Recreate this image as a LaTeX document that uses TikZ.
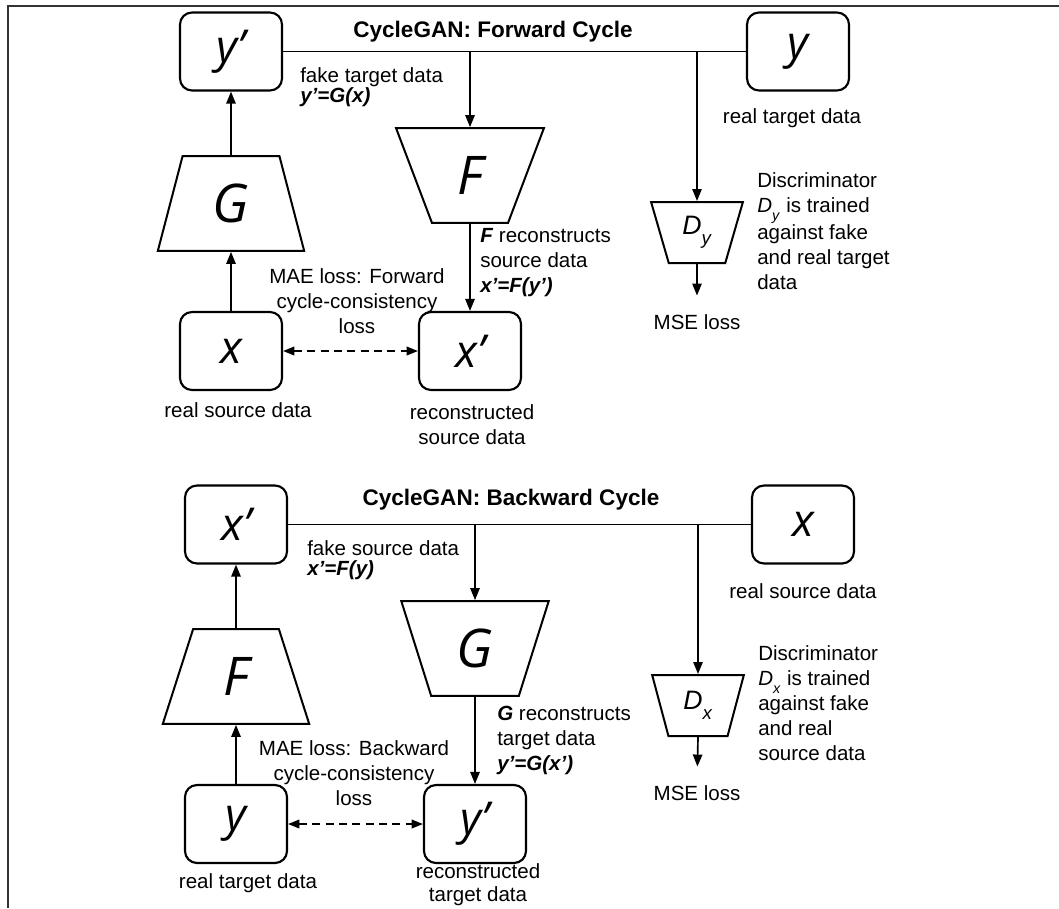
\documentclass[tikz,border=0pt]{standalone}
\usepackage{fontspec}
\setmainfont{Liberation Sans}
\newfontfamily\glyphfont{Open Sans}
\usetikzlibrary{arrows.meta,shapes.geometric}

\tikzset{
  databox/.style={draw, line width=1.6pt, rounded corners=9pt, minimum width=76.5pt, minimum height=58.5pt, inner sep=0pt, font=\glyphfont\itshape\fontsize{34}{34}\selectfont},
  genup/.style={draw, line width=1.5pt, trapezium, trapezium stretches=true, trapezium left angle=76.7, trapezium right angle=76.7, minimum width=110pt, minimum height=71pt, inner sep=0pt, font=\glyphfont\itshape\fontsize{40}{40}\selectfont},
  gendown/.style={genup, shape border rotate=180, trapezium left angle=72.5, trapezium right angle=72.5, minimum width=111pt},
  discbox/.style={draw, line width=1.5pt, trapezium, trapezium stretches=true, shape border rotate=180, trapezium left angle=74.4, trapezium right angle=74.4, minimum width=69pt, minimum height=45.75pt, inner sep=0pt, font=\itshape\fontsize{20}{20}\selectfont},
  note/.style={inner sep=0pt, font=\fontsize{15.4}{18.75}\selectfont},
  tightnote/.style={inner sep=0pt, font=\fontsize{15.4}{15}\selectfont},
  heading/.style={inner sep=0pt, font=\bfseries\fontsize{16.9}{20}\selectfont},
  link/.style={line width=1.25pt},
  arr/.style={line width=1.25pt, -{Triangle[length=9pt,width=7pt]}},
  cyc/.style={line width=1.25pt, dash pattern=on 6pt off 4pt, {Triangle[length=8.5pt,width=6.5pt]}-{Triangle[length=8.5pt,width=6.5pt]}},
}
\newcommand{\lowsub}[1]{\raisebox{-0.45ex}{\textsubscript{#1}}}

\begin{document}
\begin{tikzpicture}[x=0.75pt,y=-0.75pt]
\useasboundingbox (0,0) rectangle (1059,908);
\draw[line width=1.5pt, draw=black!80] (8,908) -- (8,6) -- (1059,6);
% forward cycle
\begin{scope}[name prefix=fw-]
\node[heading] (title) at (493,32) {CycleGAN: Forward Cycle};
\node[databox] (out) at (231,51.5) {y’};
\node[databox] (real) at (798,51.5) {y};
\node[genup] (gen1) at (231,203.5) {G};
\node[gendown] (gen2) at (470,175.5) {F};
\node[discbox] (disc) at (697,232.5) {D\lowsub{y}};
\node[databox] (src) at (231,351) {x};
\node[databox] (rec) at (470,351) {x’};
\node[note] (mse) at (697,322) {MSE loss};
\node[tightnote, anchor=west, align=left] (fakenote) at (300,87) {fake target data\\\textbf{\textit{y’=G(x)}}};
\node[note, anchor=west, align=left] (recnote) at (480,263) {\textbf{\textit{F}} reconstructs\\source data\\\textbf{\textit{x’=F(y’)}}};
\node[note, align=center] (maenote) at (357,301) {MAE loss: Forward\\cycle-consistency\\loss};
\node[note] (realnote) at (792,118) {real target data};
\node[note, anchor=west, align=left] (discnote) at (757,231) {Discriminator\\\textit{D}\lowsub{\textit{y}} is trained\\against fake\\and real target\\data};
\node[note] (srcnote) at (238,410) {real source data};
\node[note, align=center] (recname) at (472,424.5) {reconstructed\\source data};
\draw[link] (out.east) -- (real.west);
\draw[arr] (gen2.north |- out.east) -- (gen2.north);
\draw[arr] (disc.north |- real.west) -- (disc.north);
\draw[arr] (gen1.north) -- (out.south);
\draw[arr] (src.north) -- (gen1.south);
\draw[arr] (gen2.south) -- (rec.north);
\draw[cyc] (src.east) -- (rec.west);
\draw[arr, shorten >=14pt] (disc.south) -- (mse.north);
\end{scope}
% backward cycle
\begin{scope}[shift={(5,473)}, name prefix=bw-]
\node[heading] (title) at (506,27) {CycleGAN: Backward Cycle};
\node[databox] (out) at (231,51.5) {x’};
\node[databox] (real) at (798,51.5) {x};
\node[genup] (gen1) at (231,203.5) {F};
\node[gendown] (gen2) at (470,175.5) {G};
\node[discbox] (disc) at (693,232.5) {D\lowsub{x}};
\node[databox] (src) at (231,351) {y};
\node[databox] (rec) at (470,351) {y’};
\node[note] (mse) at (692,320) {MSE loss};
\node[tightnote, anchor=west, align=left] (fakenote) at (302,87) {fake source data\\\textbf{\textit{x’=F(y)}}};
\node[note, anchor=west, align=left] (recnote) at (492,267) {\textbf{\textit{G}} reconstructs\\target data\\\textbf{\textit{y’=G(x’)}}};
\node[note, align=center] (maenote) at (349,300) {MAE loss: Backward\\cycle-consistency\\loss};
\node[note] (realnote) at (798,118) {real source data};
\node[note, anchor=west, align=left] (discnote) at (753,230.5) {Discriminator\\\textit{D}\lowsub{\textit{x}} is trained\\against fake\\and real\\source data};
\node[note] (srcnote) at (243,410) {real target data};
\node[inner sep=0pt, align=center, font=\fontsize{15.4}{17}\selectfont] (recname) at (473,412) {reconstructed\\target data};
\draw[link] (out.east) -- (real.west);
\draw[arr] (gen2.north |- out.east) -- (gen2.north);
\draw[arr] (disc.north |- real.west) -- (disc.north);
\draw[arr] (gen1.north) -- (out.south);
\draw[arr] (src.north) -- (gen1.south);
\draw[arr] (gen2.south) -- (rec.north);
\draw[cyc] (src.east) -- (rec.west);
\draw[arr, shorten >=14pt] (disc.south) -- (mse.north);
\end{scope}
\end{tikzpicture}
\end{document}
